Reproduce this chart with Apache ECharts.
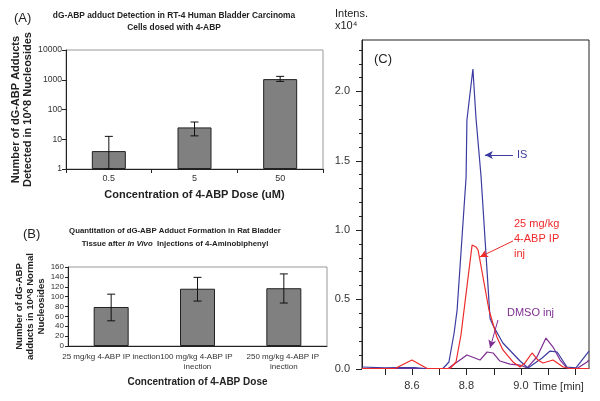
<!DOCTYPE html>
<html><head><meta charset="utf-8">
<script src="https://cdn.jsdelivr.net/npm/echarts@6/dist/echarts.min.js"></script>
<style>html,body{margin:0;padding:0;background:#fff}#c{width:600px;height:401px}</style>
</head><body><div id="c"></div>
<script>
// Panel A
const catA = ['0.5', '5', '50'];
const valA = [4, 25, 1050];
const lowA = [1, 13, 880];
const highA = [12.5, 38, 1300];
// Panel B
const catB = ['25 mg/kg 4-ABP IP inection', '100 mg/kg 4-ABP IP inection', '250 mg/kg 4-ABP IP inection'];
const valB = [79, 116, 117];
const lowB = [51, 91, 87];
const highB = [105, 139, 146];
// Panel C chromatograms (time min, intensity x10^4)
const isTime = [8.417, 8.501, 8.545, 8.611, 8.648, 8.714, 8.736, 8.755, 8.766, 8.799, 8.802, 8.824, 8.835, 8.854, 8.887, 8.898, 8.934, 8.997, 9.026, 9.078, 9.107, 9.133, 9.169, 9.202, 9.25];
const isInt  = [0.011, 0.004, 0.007, 0.007, 0.0, 0.0, 0.047, 0.256, 0.422, 1.382, 1.793, 2.161, 1.814, 1.382, 0.36, 0.31, 0.184, 0.054, 0.004, 0.076, 0.126, 0.119, 0.011, 0.004, 0.126];
const abpTime = [8.417, 8.538, 8.6, 8.656, 8.74, 8.762, 8.78, 8.821, 8.835, 8.843, 8.883, 8.912, 8.934, 8.971, 8.997, 9.015, 9.041, 9.063, 9.081, 9.118, 9.155, 9.18, 9.25];
const abpInt  = [0, 0, 0.061, 0, 0, 0.047, 0.24, 0.891, 0.877, 0.855, 0.422, 0.227, 0.134, 0.047, 0.011, 0.04, 0.112, 0.061, 0.04, 0.061, 0.011, 0, 0];
const dmsoTime = [8.417, 8.733, 8.802, 8.85, 8.876, 8.898, 8.923, 8.96, 8.997, 9.023, 9.059, 9.092, 9.118, 9.144, 9.169, 9.206, 9.243, 9.25];
const dmsoInt  = [0, 0, 0.097, 0.061, 0.119, 0.112, 0.054, 0.032, 0.025, 0.004, 0.083, 0.22, 0.155, 0.061, 0.004, 0, 0.047, 0.061];
const cXTicks = [8.5, 8.6, 8.7, 8.8, 8.9, 9.0, 9.1, 9.2];
const cXLabels = [8.6, 8.8, 9.0];
const cYLabels = [0, 0.5, 1.0, 1.5, 2.0];
const cYMinorTicks = [0.1,0.2,0.3,0.4,0.6,0.7,0.8,0.9,1.1,1.2,1.3,1.4,1.6,1.7,1.8,1.9,2.1,2.2,2.3];
// annotation arrows [fromT, fromI, toT, toI]
const arrowIS = [8.971, 1.54, 8.868, 1.54];
const arrowABP = [8.971, 0.92, 8.850, 0.805];
const arrowDMSO = [8.916, 0.35, 8.887, 0.148];

const FONT = 'Liberation Sans, Arial, sans-serif';
const TXT = '#222';
const X_MIN = 8.417, X_MAX = 9.25, Y_MAX = 2.37;

function zip(a, b) { return a.map((v, i) => [v, b[i]]); }
function errItem(params, api) {
  const lo = api.coord([api.value(0), api.value(1)]);
  const hi = api.coord([api.value(0), api.value(2)]);
  const w = 4;
  const st = { stroke: '#111', lineWidth: 1 };
  return { type: 'group', children: [
    { type: 'line', shape: { x1: lo[0], y1: lo[1], x2: hi[0], y2: hi[1] }, style: st },
    { type: 'line', shape: { x1: hi[0] - w, y1: hi[1], x2: hi[0] + w, y2: hi[1] }, style: st },
    { type: 'line', shape: { x1: lo[0] - w, y1: lo[1], x2: lo[0] + w, y2: lo[1] }, style: st }
  ]};
}
function arrowLine(a) {
  return [{ coord: [a[0], a[1]], symbol: 'none' }, { coord: [a[2], a[3]], symbol: 'arrow', symbolSize: [6, 8] }];
}

const chart = echarts.init(document.getElementById('c'), null, { renderer: 'canvas' });
chart.setOption({
  animation: false,
  textStyle: { fontFamily: FONT },
  title: [
    { text: 'dG-ABP adduct Detection in RT-4 Human Bladder Carcinoma\nCells dosed with 4-ABP', left: 174, top: 10, padding: 0, textAlign: 'center',
      textStyle: { fontSize: 8.4, fontWeight: 'bold', color: TXT, lineHeight: 12, fontFamily: FONT } },
    { text: '(A)', left: 14, top: 12, padding: 0, textStyle: { fontSize: 13, fontWeight: 'normal', color: TXT, fontFamily: FONT } },
    { text: 'Quantitation of dG-ABP Adduct Formation in Rat Bladder\nTissue after {i|In Vivo}  Injections of 4-Aminobiphenyl', left: 175, top: 224, padding: 0, textAlign: 'center',
      textStyle: { fontSize: 7.8, fontWeight: 'bold', color: TXT, lineHeight: 13, fontFamily: FONT,
        rich: { i: { fontStyle: 'italic', fontWeight: 'bold', fontSize: 7.8, color: TXT, fontFamily: FONT } } } },
    { text: '(B)', left: 23, top: 228, padding: 0, textStyle: { fontSize: 13, fontWeight: 'normal', color: TXT, fontFamily: FONT } },
    { text: 'Intens.\nx10⁴', left: 335, top: 8, padding: 0, textStyle: { fontSize: 11, fontWeight: 'normal', color: TXT, lineHeight: 12, fontFamily: FONT } },
    { text: '(C)', left: 374, top: 53, padding: 0, textStyle: { fontSize: 13, fontWeight: 'normal', color: TXT, fontFamily: FONT } }
  ],
  grid: [
    { left: 66, top: 50, width: 257, height: 119, show: true, borderColor: '#999', borderWidth: 1 },
    { left: 68, top: 267, width: 259, height: 79, show: true, borderColor: '#999', borderWidth: 1 },
    { left: 362, top: 40, width: 227, height: 328.5, show: true, borderColor: '#222', borderWidth: 1 }
  ],
  xAxis: [
    { gridIndex: 0, type: 'category', data: catA,
      axisLine: { show: true, lineStyle: { color: '#222' } }, axisTick: { show: true, length: 4, lineStyle: { color: '#222' } },
      axisLabel: { fontSize: 9, color: '#333', margin: 5 },
      name: 'Concentration of 4-ABP Dose (uM)', nameLocation: 'middle', nameGap: 20,
      nameTextStyle: { fontSize: 11, fontWeight: 'bold', color: TXT } },
    { gridIndex: 1, type: 'category', data: catB,
      axisLine: { show: true, lineStyle: { color: '#222' } }, axisTick: { show: false },
      axisLabel: { fontSize: 8, color: '#333', margin: 6, lineHeight: 10, width: 99, overflow: 'break', interval: 0 },
      name: 'Concentration of 4-ABP Dose', nameLocation: 'middle', nameGap: 31,
      nameTextStyle: { fontSize: 10, fontWeight: 'bold', color: TXT } },
    { gridIndex: 2, type: 'value', min: X_MIN, max: X_MAX,
      splitLine: { show: false },
      axisLine: { show: true, lineStyle: { color: '#222' } },
      axisTick: { show: false },
      axisLabel: { customValues: cXLabels, formatter: v => v.toFixed(1), fontSize: 11, color: '#333', margin: 12 } }
  ],
  yAxis: [
    { gridIndex: 0, type: 'log', min: 1, max: 10000, logBase: 10, position: 'left',
      splitLine: { show: false },
      axisLine: { show: true, lineStyle: { color: '#222' } }, axisTick: { show: true, length: 4, lineStyle: { color: '#222' } },
      axisLabel: { fontSize: 8.6, color: '#333', margin: 4, formatter: v => String(Math.round(v)) },
      name: 'Number of dG-ABP Adducts\nDetected in 10^8 Nucleosides', nameLocation: 'middle', nameRotate: 90, nameGap: 18,
      nameTextStyle: { fontSize: 11, fontWeight: 'bold', color: TXT, lineHeight: 12 } },
    { gridIndex: 1, type: 'value', min: 0, max: 160, interval: 20, position: 'left',
      splitLine: { show: false },
      axisLine: { show: true, lineStyle: { color: '#222' } }, axisTick: { show: true, length: 3, lineStyle: { color: '#222' } },
      axisLabel: { fontSize: 8, color: '#333', margin: 4 },
      name: 'Number of dG-ABP\nadducts in 10^8 Normal\nNucleosides', nameLocation: 'middle', nameRotate: 90, nameGap: 19,
      nameTextStyle: { fontSize: 9.5, fontWeight: 'bold', color: TXT, lineHeight: 11 } },
    { gridIndex: 2, type: 'value', min: 0, max: Y_MAX, position: 'left',
      splitLine: { show: false },
      axisLine: { show: true, lineStyle: { color: '#222' } },
      axisTick: { show: false },
      axisLabel: { customValues: cYLabels, formatter: v => v.toFixed(1), fontSize: 11, color: '#333', margin: 12 } }
  ],
  series: [
    { type: 'bar', xAxisIndex: 0, yAxisIndex: 0, data: valA, barWidth: 34,
      itemStyle: { color: '#808080', borderColor: '#222', borderWidth: 1 } },
    { type: 'custom', xAxisIndex: 0, yAxisIndex: 0, renderItem: errItem,
      data: catA.map((c, i) => [i, lowA[i], highA[i]]), z: 5 },
    { type: 'bar', xAxisIndex: 1, yAxisIndex: 1, data: valB, barWidth: 35,
      itemStyle: { color: '#808080', borderColor: '#222', borderWidth: 1 } },
    { type: 'custom', xAxisIndex: 1, yAxisIndex: 1, renderItem: errItem,
      data: catB.map((c, i) => [i, lowB[i], highB[i]]), z: 5 },
    { type: 'line', xAxisIndex: 2, yAxisIndex: 2, data: zip(dmsoTime, dmsoInt), showSymbol: false,
      lineStyle: { color: '#7e2e91', width: 1.2 },
      markLine: { silent: true, animation: false, label: { show: false }, lineStyle: { color: '#7e2e91', width: 1, type: 'solid' }, data: [arrowLine(arrowDMSO)] } },
    { type: 'line', xAxisIndex: 2, yAxisIndex: 2, data: zip(isTime, isInt), showSymbol: false,
      lineStyle: { color: '#3b3ba0', width: 1.2 },
      markLine: { silent: true, animation: false, label: { show: false }, lineStyle: { color: '#3b3ba0', width: 1, type: 'solid' }, data: [arrowLine(arrowIS)] } },
    { type: 'line', xAxisIndex: 2, yAxisIndex: 2, data: zip(abpTime, abpInt), showSymbol: false,
      lineStyle: { color: '#ee2a2a', width: 1.2 },
      markLine: { silent: true, animation: false, label: { show: false }, lineStyle: { color: '#ee2a2a', width: 1, type: 'solid' }, data: [arrowLine(arrowABP)] } }
  ]
});

// Annotation texts and panel C axis ticks (positions via the library's own scales)
const texts = [
  { type: 'text', left: 517, top: 149, style: { text: 'IS', fontSize: 11, fill: '#3b3ba0', fontFamily: FONT } },
  { type: 'text', left: 514, top: 216, style: { text: '25 mg/kg\n4-ABP IP\ninj', fontSize: 11, lineHeight: 15, fill: '#ee2a2a', fontFamily: FONT } },
  { type: 'text', left: 507, top: 307, style: { text: 'DMSO inj', fontSize: 11, fill: '#7e2e91', fontFamily: FONT } },
  { type: 'text', left: 533, top: 381, style: { text: 'Time [min]', fontSize: 11, fill: '#333', fontFamily: FONT } }
];
const ticks = [];
cXTicks.forEach(t => {
  const p = chart.convertToPixel({ gridIndex: 2 }, [t, 0]);
  ticks.push({ type: 'rect', z: 100, silent: true,
    shape: { x: Math.round(p[0]), y: Math.round(p[1]), width: 1, height: 6 }, style: { fill: '#222' } });
});
cYLabels.concat(cYMinorTicks).forEach(v => {
  const p = chart.convertToPixel({ gridIndex: 2 }, [X_MIN, v]);
  const len = cYLabels.indexOf(v) >= 0 ? 6 : 3;
  ticks.push({ type: 'rect', z: 100, silent: true,
    shape: { x: Math.round(p[0]) - len, y: Math.round(p[1]), width: len, height: 1 }, style: { fill: '#222' } });
});
chart.setOption({ graphic: texts.concat(ticks) });
</script></body></html>
